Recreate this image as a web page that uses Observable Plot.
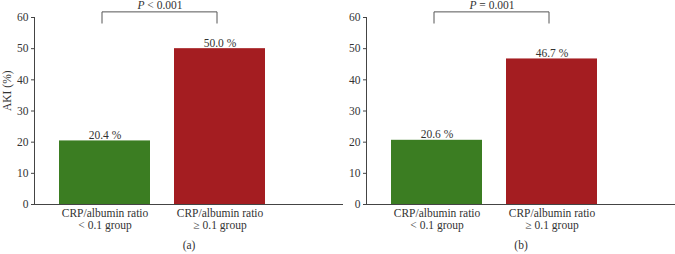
<!DOCTYPE html>
<html>
<head>
<meta charset="utf-8">
<script src="https://cdn.jsdelivr.net/npm/d3@7"></script>
<script src="https://cdn.jsdelivr.net/npm/@observablehq/plot@0.6"></script>
<style>
  html, body { margin: 0; padding: 0; background: #fff; }
  #wrap { position: relative; width: 675px; height: 254px; overflow: hidden; }
  #wrap > div { position: absolute; top: 0; }
  svg { overflow: visible; }
</style>
</head>
<body>
<div id="wrap"><div id="pa" style="left:0"></div><div id="pb" style="left:332px"></div></div>
<script>
const categories = ["CRP/albumin ratio\n< 0.1 group", "CRP/albumin ratio\n\u2265 0.1 group"];
const panelA = [20.4, 50.0];
const panelB = [20.6, 46.7];
const pLabels = ["P < 0.001", "P = 0.001"];
const panelNames = ["(a)", "(b)"];
const yTicks = [0, 10, 20, 30, 40, 50, 60];
const bracketTop = 61.8, bracketFoot = 58.2, pTextY = 62.6;
const colors = ["#3b7d22", "#a41d21"];

function panel(values, pLabel, name, showYLabel) {
  const data = categories.map((c, i) => ({cat: c, v: values[i], color: colors[i], label: values[i].toFixed(1) + " %"}));
  const bracket = [
    {cat: categories[0], y: bracketFoot},
    {cat: categories[0], y: bracketTop},
    {cat: categories[1], y: bracketTop},
    {cat: categories[1], y: bracketFoot}
  ];
  const marks = [
    Plot.barY(data, {x: "cat", y: "v", fill: "color"}),
    Plot.ruleY([0], {stroke: "#444", strokeWidth: 1}),
    Plot.frame({anchor: "left", stroke: "#444"}),
    Plot.axisY({ticks: yTicks, tickSize: 3, tickPadding: 3, label: null, stroke: "#444", fill: "#333", fontSize: 11.5}),
    Plot.axisX({tickSize: 0, tickPadding: 4, label: null, fill: "#333", fontSize: 11.5, lineHeight: 1.05}),
    Plot.text(data, {x: "cat", y: "v", text: "label", dy: -2, lineAnchor: "bottom", fill: "#333", fontSize: 11.5}),
    Plot.line(bracket, {x: "cat", y: "y", dx: -3, stroke: "#555", strokeWidth: 1}),
    Plot.text([pLabel], {x: () => categories[0], y: () => pTextY, text: d => d, dx: 55, lineAnchor: "bottom", fill: "#333", fontSize: 11.5}),
    Plot.text([name], {frameAnchor: "bottom", text: d => d, dy: 44, fill: "#333", fontSize: 11.5})
  ];
  if (showYLabel) {
    marks.push(Plot.text(["AKI (%)"], {frameAnchor: "left", text: d => d, rotate: -90, dx: -27, fill: "#333", fontSize: 11.5}));
  }
  const chart = Plot.plot({
    width: 343,
    height: 254,
    marginLeft: 34,
    marginRight: 0,
    marginTop: 17,
    marginBottom: 50,
    style: {fontFamily: "'Liberation Serif', serif", fontSize: "11.5px", color: "#333", background: "transparent"},
    x: {type: "band", domain: categories, range: [34, 289.5], paddingInner: 0.212, paddingOuter: 0.212, axis: null},
    y: {domain: [0, 60], axis: null},
    marks
  });
  // italicize the leading "P" of the significance label
  d3.select(chart).selectAll("text").each(function() {
    const t = d3.select(this);
    const s = t.text();
    if (s === pLabel) {
      t.text(null);
      t.append("tspan").attr("font-style", "italic").text("P");
      t.append("tspan").text(s.slice(1));
    }
  });
  return chart;
}

document.getElementById("pa").appendChild(panel(panelA, pLabels[0], panelNames[0], true));
document.getElementById("pb").appendChild(panel(panelB, pLabels[1], panelNames[1], false));
</script>
</body>
</html>
